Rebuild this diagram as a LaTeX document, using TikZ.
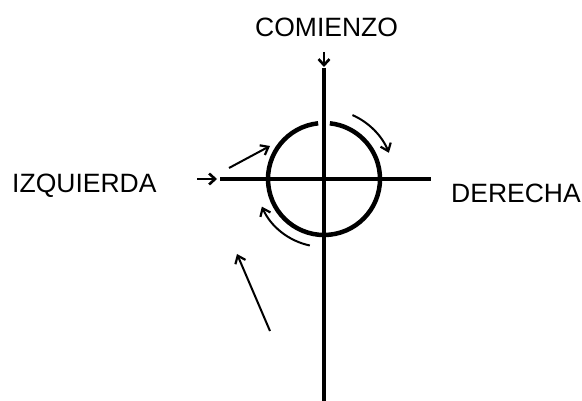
\documentclass[tikz,border=0pt]{standalone}
\usepackage{fontspec}
\setmainfont{Liberation Sans}
\usepackage{tikz}
\usetikzlibrary{arrows.meta}

\begin{document}
\begin{tikzpicture}[x=1pt, y=-1pt,
    linea/.style={line width=4.5pt},
    flecha/.style={line width=2pt, -{Straight Barb[length=7pt, width=11pt, line width=2.2pt]}},
    entrada/.style={line width=2.6pt, -{Straight Barb[length=6pt, width=11pt, line width=2.6pt]}},
    rotulo/.style={inner sep=0pt, anchor=base west, font=\fontsize{26.5}{30}\selectfont}]
    \useasboundingbox (0,0) rectangle (582,401);

    % The cross and the circle
    \coordinate (centro) at (324,179);
    \coordinate (arriba) at (324,68);
    \coordinate (abajo) at (324,401);
    \coordinate (izq) at (220,179);
    \coordinate (der) at (431,179);
    \draw[linea] (arriba) -- (abajo);
    \draw[linea] (izq) -- (der);
    \draw[linea] ([shift={(-96:56)}]centro) arc[start angle=-96, end angle=-444, radius=56];

    % Labels
    \node[rotulo] (comienzo) at (255,37) {COMIENZO};
    \node[rotulo] (izquierda) at (12,193) {IZQUIERDA};
    \node[rotulo, anchor=base east] (derecha) at (581,203) {DERECHA};

    % Entry arrows
    \coordinate (entrada1) at (324,52);
    \coordinate (entrada2) at (197,179);
    \draw[entrada] (entrada1) -- (324,67);
    \draw[entrada] (entrada2) -- (217,179);

    % Direction arrows
    \coordinate (a1) at (229,168);
    \coordinate (a2) at (270,146);
    \coordinate (b1) at (270,331);
    \coordinate (b2) at (237,254);
    \draw[flecha] (a1) -- (a2);
    \draw[flecha] (b1) -- (b2);
    \draw[flecha] ([shift={(-66:70)}]centro) arc[start angle=-66, end angle=-22, radius=70];
    \draw[flecha] ([shift={(-258:68)}]centro) arc[start angle=-258, end angle=-204, radius=68];
\end{tikzpicture}
\end{document}
